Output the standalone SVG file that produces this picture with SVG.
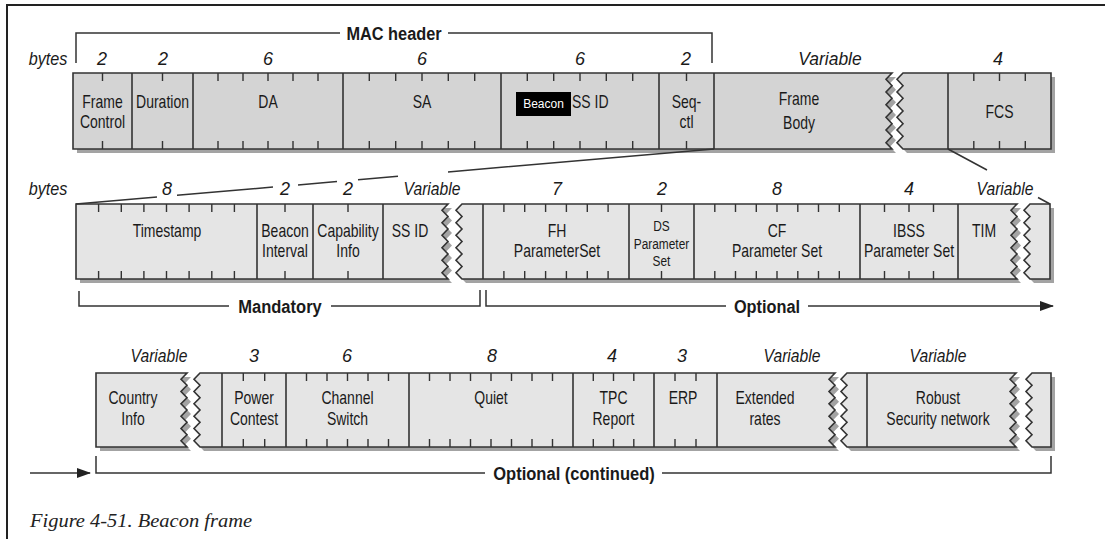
<svg xmlns="http://www.w3.org/2000/svg" xmlns:xlink="http://www.w3.org/1999/xlink" width="1105" height="539" viewBox="0 0 1105 539">
<style>
.frame{fill:none;stroke:#222;stroke-width:2}
.shadow{fill:#a3a3a3;stroke:none}
.rowTop{fill:#d4d4d4;stroke:#333;stroke-width:1.6}
.rowLight{fill:#e5e5e5;stroke:#333;stroke-width:1.6}
.div{stroke:#333;stroke-width:1.6;fill:none}
.tick{stroke:#333;stroke-width:1.4;fill:none}
.ln{stroke:#333;stroke-width:1.5;fill:none}
.l{font-family:"Liberation Sans",Arial,sans-serif;font-size:17.5px;fill:#1a1a1a;text-anchor:middle}
.s{font-family:"Liberation Sans",Arial,sans-serif;font-size:14.5px;fill:#1a1a1a;text-anchor:middle}
.n{font-family:"Liberation Sans",Arial,sans-serif;font-style:italic;font-size:18px;fill:#1a1a1a;text-anchor:middle}
.b{font-family:"Liberation Sans",Arial,sans-serif;font-weight:bold;font-size:19px;fill:#1a1a1a;text-anchor:middle}
.cap{font-family:"Liberation Serif","Times New Roman",serif;font-style:italic;font-size:19px;fill:#222}
.tip{font-family:"Liberation Sans",Arial,sans-serif;font-size:12px;fill:#fff;text-anchor:middle}
</style>
<defs>
<path id="tA" d="M73,73 H892 L886,79.3 L892,85.7 L886,92 L892,98.3 L886,104.7 L892,111 L886,117.3 L892,123.7 L886,130 L892,136.3 L886,142.7 L892,149 H73 Z"/>
<path id="tB" d="M903,73 H1051 V149 H903 L897,142.7 L903,136.3 L897,130 L903,123.7 L897,117.3 L903,111 L897,104.7 L903,98.3 L897,92 L903,85.7 L897,79.3 Z"/>
<path id="mA" d="M76,204 H448 L442,210.3 L448,216.5 L442,222.8 L448,229 L442,235.3 L448,241.5 L442,247.8 L448,254 L442,260.3 L448,266.5 L442,272.8 L448,279 H76 Z"/>
<path id="mB" d="M462,204 H1017 L1011,210.3 L1017,216.5 L1011,222.8 L1017,229 L1011,235.3 L1017,241.5 L1011,247.8 L1017,254 L1011,260.3 L1017,266.5 L1011,272.8 L1017,279 H462 L456,272.8 L462,266.5 L456,260.3 L462,254 L456,247.8 L462,241.5 L456,235.3 L462,229 L456,222.8 L462,216.5 L456,210.3 Z"/>
<path id="mC" d="M1030,204 H1050 V279 H1030 L1024,272.8 L1030,266.5 L1024,260.3 L1030,254 L1024,247.8 L1030,241.5 L1024,235.3 L1030,229 L1024,222.8 L1030,216.5 L1024,210.3 Z"/>
<path id="bA" d="M96,373 H187 L181,379.2 L187,385.3 L181,391.5 L187,397.7 L181,403.8 L187,410 L181,416.2 L187,422.3 L181,428.5 L187,434.7 L181,440.8 L187,447 H96 Z"/>
<path id="bB" d="M200,373 H835 L829,379.2 L835,385.3 L829,391.5 L835,397.7 L829,403.8 L835,410 L829,416.2 L835,422.3 L829,428.5 L835,434.7 L829,440.8 L835,447 H200 L194,440.8 L200,434.7 L194,428.5 L200,422.3 L194,416.2 L200,410 L194,403.8 L200,397.7 L194,391.5 L200,385.3 L194,379.2 Z"/>
<path id="bC" d="M847,373 H1016 L1010,379.2 L1016,385.3 L1010,391.5 L1016,397.7 L1010,403.8 L1016,410 L1010,416.2 L1016,422.3 L1010,428.5 L1016,434.7 L1010,440.8 L1016,447 H847 L841,440.8 L847,434.7 L841,428.5 L847,422.3 L841,416.2 L847,410 L841,403.8 L847,397.7 L841,391.5 L847,385.3 L841,379.2 Z"/>
<path id="bD" d="M1032,373 H1051 V447 H1032 L1026,440.8 L1032,434.7 L1026,428.5 L1032,422.3 L1026,416.2 L1032,410 L1026,403.8 L1032,397.7 L1026,391.5 L1032,385.3 L1026,379.2 Z"/>
<marker id="arr" viewBox="0 0 14 10" refX="13" refY="5" markerWidth="14" markerHeight="10" markerUnits="userSpaceOnUse" orient="auto"><path d="M0,0 L14,5 L0,10 Z" fill="#222"/></marker>
</defs>

<path class="frame" d="M7,539 V5 H1105"/>

<g id="row-shapes">
<use href="#tA" class="shadow" x="4" y="4"/><use href="#tB" class="shadow" x="4" y="4"/>
<use href="#mA" class="shadow" x="4" y="4"/><use href="#mB" class="shadow" x="4" y="4"/><use href="#mC" class="shadow" x="4" y="4"/>
<use href="#bA" class="shadow" x="4" y="4"/><use href="#bB" class="shadow" x="4" y="4"/><use href="#bC" class="shadow" x="4" y="4"/><use href="#bD" class="shadow" x="4" y="4"/>
<use href="#tA" class="rowTop"/><use href="#tB" class="rowTop"/>
<use href="#mA" class="rowLight"/><use href="#mB" class="rowLight"/><use href="#mC" class="rowLight"/>
<use href="#bA" class="rowLight"/><use href="#bB" class="rowLight"/><use href="#bC" class="rowLight"/><use href="#bD" class="rowLight"/>
</g>

<g id="byte-labels">
<text class="n" transform="translate(48 65) scale(.9 1)">bytes</text>
<text class="n" x="102" y="65">2</text>
<text class="n" x="163" y="65">2</text>
<text class="n" x="268" y="65">6</text>
<text class="n" x="422" y="65">6</text>
<text class="n" x="580" y="65">6</text>
<text class="n" x="686" y="65">2</text>
<text class="n" transform="translate(830 65) scale(.97 1)">Variable</text>
<text class="n" x="998" y="65">4</text>
<text class="n" transform="translate(48 195) scale(.9 1)">bytes</text>
<text class="n" x="167" y="195">8</text>
<text class="n" x="285" y="195">2</text>
<text class="n" x="348" y="195">2</text>
<text class="n" transform="translate(432 195) scale(.87 1)">Variable</text>
<text class="n" x="557" y="195">7</text>
<text class="n" x="662" y="195">2</text>
<text class="n" x="777" y="195">8</text>
<text class="n" x="909" y="195">4</text>
<text class="n" transform="translate(1005 195) scale(.87 1)">Variable</text>
<text class="n" transform="translate(159 362) scale(.87 1)">Variable</text>
<text class="n" x="254" y="362">3</text>
<text class="n" x="347" y="362">6</text>
<text class="n" x="492" y="362">8</text>
<text class="n" x="612" y="362">4</text>
<text class="n" x="682" y="362">3</text>
<text class="n" transform="translate(792 362) scale(.87 1)">Variable</text>
<text class="n" transform="translate(938 362) scale(.87 1)">Variable</text>
</g>

<g id="frame-control">
<path class="tick" d="M102.5,73 V81 M102.5,141 V149"/>
<text class="l" transform="translate(102.5 108) scale(.8 1)">Frame</text>
<text class="l" transform="translate(102.5 128) scale(.8 1)">Control</text>
</g>
<g id="duration">
<path class="div" d="M132,73 V149"/>
<path class="tick" d="M162.5,73 V81 M162.5,141 V149"/>
<text class="l" transform="translate(162.5 108) scale(.8 1)">Duration</text>
</g>
<g id="da">
<path class="div" d="M193,73 V149"/>
<path class="tick" d="M218,73 V81 M243,73 V81 M268,73 V81 M293,73 V81 M318,73 V81 M218,141 V149 M243,141 V149 M268,141 V149 M293,141 V149 M318,141 V149"/>
<text class="l" transform="translate(268 108) scale(.8 1)">DA</text>
</g>
<g id="sa">
<path class="div" d="M343,73 V149"/>
<path class="tick" d="M369.3,73 V81 M395.7,73 V81 M422,73 V81 M448.3,73 V81 M474.7,73 V81 M369.3,141 V149 M395.7,141 V149 M422,141 V149 M448.3,141 V149 M474.7,141 V149"/>
<text class="l" transform="translate(422 108) scale(.8 1)">SA</text>
</g>
<g id="bss-id">
<path class="div" d="M501,73 V149"/>
<path class="tick" d="M527.3,73 V81 M553.7,73 V81 M580,73 V81 M606.3,73 V81 M632.7,73 V81 M527.3,141 V149 M553.7,141 V149 M580,141 V149 M606.3,141 V149 M632.7,141 V149"/>
<text class="l" text-anchor="start" style="text-anchor:start" transform="translate(572 108) scale(.8 1)">SS ID</text>
</g>
<g id="seq-ctl">
<path class="div" d="M659,73 V149"/>
<path class="tick" d="M686.5,73 V81 M686.5,141 V149"/>
<text class="l" transform="translate(686.5 108) scale(.8 1)">Seq-</text>
<text class="l" transform="translate(686.5 128) scale(.8 1)">ctl</text>
</g>
<g id="frame-body">
<path class="div" d="M714,73 V149"/>
<text class="l" transform="translate(799 105) scale(.8 1)">Frame</text>
<text class="l" transform="translate(799 129) scale(.8 1)">Body</text>
</g>
<g id="fcs">
<path class="div" d="M948,73 V149"/>
<path class="tick" d="M973.8,73 V81 M999.5,73 V81 M1025.3,73 V81 M973.8,141 V149 M999.5,141 V149 M1025.3,141 V149"/>
<text class="l" transform="translate(999.5 118) scale(.8 1)">FCS</text>
</g>
<g id="tooltip">
<rect x="516" y="92" width="55" height="24" fill="#000"/>
<text class="tip" x="543.5" y="108">Beacon</text>
</g>

<g id="timestamp">
<path class="tick" d="M98.6,204 V212 M121.3,204 V212 M143.9,204 V212 M166.5,204 V212 M189.1,204 V212 M211.8,204 V212 M234.4,204 V212 M98.6,271 V279 M121.3,271 V279 M143.9,271 V279 M166.5,271 V279 M189.1,271 V279 M211.8,271 V279 M234.4,271 V279"/>
<text class="l" transform="translate(167 236.5) scale(.8 1)">Timestamp</text>
</g>
<g id="beacon-interval">
<path class="div" d="M257,204 V279"/>
<path class="tick" d="M285,204 V212 M285,271 V279"/>
<text class="l" transform="translate(285 236.5) scale(.8 1)">Beacon</text>
<text class="l" transform="translate(285 256.5) scale(.8 1)">Interval</text>
</g>
<g id="capability-info">
<path class="div" d="M313,204 V279"/>
<path class="tick" d="M348,204 V212 M348,271 V279"/>
<text class="l" transform="translate(348 236.5) scale(.8 1)">Capability</text>
<text class="l" transform="translate(348 256.5) scale(.8 1)">Info</text>
</g>
<g id="ss-id">
<path class="div" d="M383,204 V279"/>
<text class="l" transform="translate(410 236.5) scale(.8 1)">SS ID</text>
</g>
<g id="fh-parameter-set">
<path class="div" d="M483,204 V279"/>
<path class="tick" d="M503.9,204 V212 M524.7,204 V212 M545.6,204 V212 M566.4,204 V212 M587.3,204 V212 M608.1,204 V212 M503.9,271 V279 M524.7,271 V279 M545.6,271 V279 M566.4,271 V279 M587.3,271 V279 M608.1,271 V279"/>
<text class="l" transform="translate(557 236.5) scale(.8 1)">FH</text>
<text class="l" transform="translate(557 257) scale(.8 1)">ParameterSet</text>
</g>
<g id="ds-parameter-set">
<path class="div" d="M629,204 V279"/>
<path class="tick" d="M661.5,204 V212 M661.5,271 V279"/>
<text class="s" transform="translate(661.5 231) scale(.82 1)">DS</text>
<text class="s" transform="translate(661.5 248.5) scale(.82 1)">Parameter</text>
<text class="s" transform="translate(661.5 266) scale(.82 1)">Set</text>
</g>
<g id="cf-parameter-set">
<path class="div" d="M694,204 V279"/>
<path class="tick" d="M714.8,204 V212 M735.5,204 V212 M756.3,204 V212 M777,204 V212 M797.8,204 V212 M818.5,204 V212 M839.3,204 V212 M714.8,271 V279 M735.5,271 V279 M756.3,271 V279 M777,271 V279 M797.8,271 V279 M818.5,271 V279 M839.3,271 V279"/>
<text class="l" transform="translate(777 236.5) scale(.8 1)">CF</text>
<text class="l" transform="translate(777 257) scale(.8 1)">Parameter Set</text>
</g>
<g id="ibss-parameter-set">
<path class="div" d="M860,204 V279"/>
<path class="tick" d="M884.5,204 V212 M909,204 V212 M933.5,204 V212 M884.5,271 V279 M909,271 V279 M933.5,271 V279"/>
<text class="l" transform="translate(909 236.5) scale(.8 1)">IBSS</text>
<text class="l" transform="translate(909 257) scale(.8 1)">Parameter Set</text>
</g>
<g id="tim">
<path class="div" d="M958,204 V279"/>
<text class="l" transform="translate(984 236.5) scale(.8 1)">TIM</text>
</g>

<g id="country-info">
<text class="l" transform="translate(133 404) scale(.8 1)">Country</text>
<text class="l" transform="translate(133 424.5) scale(.8 1)">Info</text>
</g>
<g id="power-contest">
<path class="div" d="M222,373 V447"/>
<path class="tick" d="M243.3,373 V381 M264.7,373 V381 M243.3,439 V447 M264.7,439 V447"/>
<text class="l" transform="translate(254 404) scale(.8 1)">Power</text>
<text class="l" transform="translate(254 424.5) scale(.8 1)">Contest</text>
</g>
<g id="channel-switch">
<path class="div" d="M286,373 V447"/>
<path class="tick" d="M306.5,373 V381 M327,373 V381 M347.5,373 V381 M368,373 V381 M388.5,373 V381 M306.5,439 V447 M327,439 V447 M347.5,439 V447 M368,439 V447 M388.5,439 V447"/>
<text class="l" transform="translate(347.5 404) scale(.8 1)">Channel</text>
<text class="l" transform="translate(347.5 424.5) scale(.8 1)">Switch</text>
</g>
<g id="quiet">
<path class="div" d="M409,373 V447"/>
<path class="tick" d="M429.5,373 V381 M450,373 V381 M470.5,373 V381 M491,373 V381 M511.5,373 V381 M532,373 V381 M552.5,373 V381 M429.5,439 V447 M450,439 V447 M470.5,439 V447 M491,439 V447 M511.5,439 V447 M532,439 V447 M552.5,439 V447"/>
<text class="l" transform="translate(491 404) scale(.8 1)">Quiet</text>
</g>
<g id="tpc-report">
<path class="div" d="M573,373 V447"/>
<path class="tick" d="M593.3,373 V381 M613.5,373 V381 M633.8,373 V381 M593.3,439 V447 M613.5,439 V447 M633.8,439 V447"/>
<text class="l" transform="translate(613.5 404) scale(.8 1)">TPC</text>
<text class="l" transform="translate(613.5 424.5) scale(.8 1)">Report</text>
</g>
<g id="erp">
<path class="div" d="M654,373 V447"/>
<path class="tick" d="M675,373 V381 M696,373 V381 M675,439 V447 M696,439 V447"/>
<text class="l" transform="translate(683 404) scale(.8 1)">ERP</text>
</g>
<g id="extended-rates">
<path class="div" d="M717,373 V447"/>
<text class="l" transform="translate(765 404) scale(.8 1)">Extended</text>
<text class="l" transform="translate(765 424.5) scale(.8 1)">rates</text>
</g>
<g id="robust-security-network">
<path class="div" d="M867,373 V447"/>
<text class="l" transform="translate(938 404) scale(.8 1)">Robust</text>
<text class="l" transform="translate(938 424.5) scale(.8 1)">Security network</text>
</g>

<g id="connectors">
<path class="ln" d="M76,63 V33 H340 M448,33 H712 V63"/>
<path class="ln" d="M76,204 L157,197 M177,195.3 L273,187 M298,184.9 L337,181.5 M358,179.7 L398,176.2 M448,171.9 L714,149"/>
<path class="ln" d="M948,149 L987,170 M1038,197.5 L1050,204"/>
<path class="ln" d="M79,291 V306 H229 M331,306 H480 V290"/>
<path class="ln" d="M486,290 V306 H726"/>
<path class="ln" d="M808,306 H1053" marker-end="url(#arr)"/>
<path class="ln" d="M30,473 H90" marker-end="url(#arr)"/>
<path class="ln" d="M96,456 V473 H485 M662,473 H1051 V456"/>
</g>
<g id="bracket-labels">
<text class="b" transform="translate(394 40) scale(.86 1)">MAC header</text>
<text class="b" transform="translate(280 313) scale(.87 1)">Mandatory</text>
<text class="b" transform="translate(767 313) scale(.86 1)">Optional</text>
<text class="b" transform="translate(574 480) scale(.87 1)">Optional (continued)</text>
</g>
<text class="cap" x="30" y="527" textLength="222" lengthAdjust="spacingAndGlyphs">Figure 4-51. Beacon frame</text>
</svg>
